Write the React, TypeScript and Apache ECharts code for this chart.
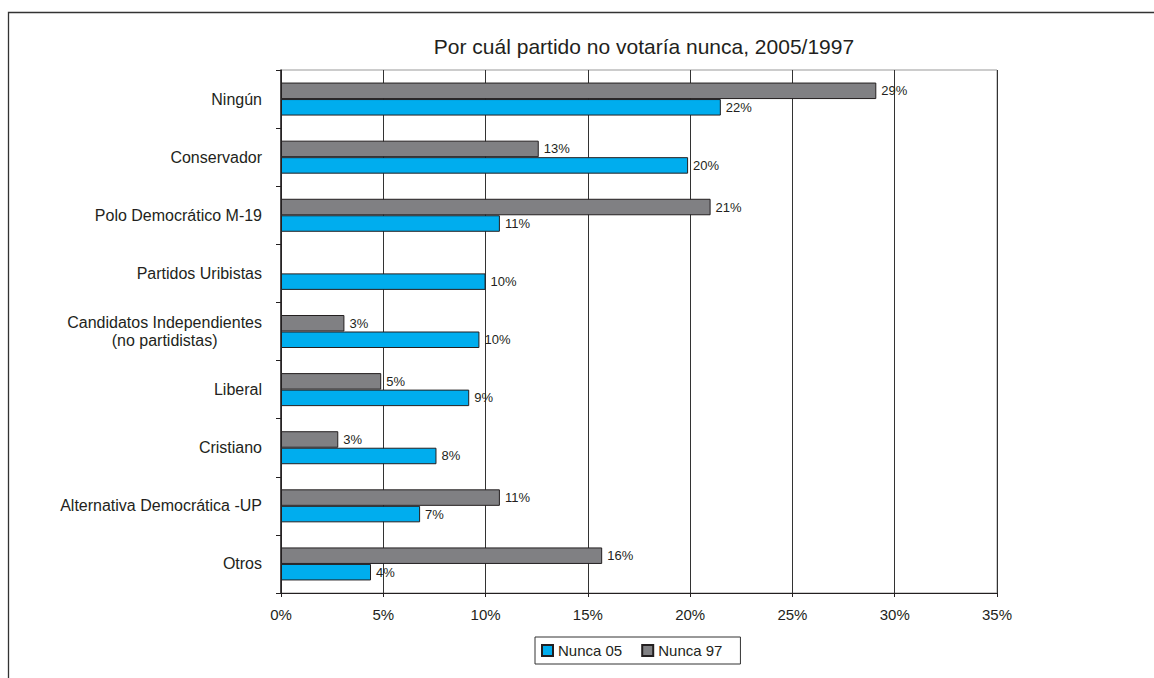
import React, { useEffect, useRef } from "react";
import * as echarts from "echarts";

const categories = [
  "Ningún",
  "Conservador",
  "Polo Democrático M-19",
  "Partidos Uribistas",
  "Candidatos Independientes\n(no partidistas)",
  "Liberal",
  "Cristiano",
  "Alternativa Democrática -UP",
  "Otros",
];
const nunca05 = [21.5, 19.9, 10.7, 10.0, 9.7, 9.2, 7.6, 6.8, 4.4];
const nunca97: (number | string)[] = [29.1, 12.6, 21.0, "-", 3.1, 4.9, 2.8, 10.7, 15.7];
const xTicks = { min: 0, max: 35, interval: 5 };
const title = "Por cuál partido no votaría nunca, 2005/1997";

const FONT = "'Liberation Sans', Arial, sans-serif";
const TEXT = "#231f20";

export default function App() {
  const ref = useRef<HTMLDivElement>(null);
  useEffect(() => {
    if (!ref.current) return;
    const chart = echarts.init(ref.current, null, { renderer: "svg" });
    const labelOpt = {
      show: true,
      position: "right",
      distance: 5,
      fontSize: 13,
      fontFamily: FONT,
      color: TEXT,
      formatter: (p: any) => Math.round(p.value) + "%",
    };
    chart.setOption({
      animation: false,
      backgroundColor: "#ffffff",
      textStyle: { fontFamily: FONT, color: TEXT },
      title: {
        text: title,
        left: 639,
        top: 31,
        textAlign: "center",
        textStyle: { fontSize: 21, fontWeight: "normal", color: TEXT, fontFamily: FONT },
      },
      graphic: [
        {
          type: "rect",
          shape: { x: 8.5, y: 12.5, width: 1300, height: 800 },
          style: { fill: "none", stroke: "#333", lineWidth: 1.3 },
          silent: true,
        },
      ],
      legend: {
        left: 535,
        top: 637,
        orient: "horizontal",
        data: ["Nunca 05", "Nunca 97"],
        itemWidth: 11,
        itemHeight: 11,
        itemGap: 19,
        padding: [6, 18, 6, 6],
        borderColor: "#333",
        borderWidth: 1,
        icon: "rect",
        textStyle: { fontSize: 15, color: TEXT, fontFamily: FONT },
      },
      grid: {
        left: 281,
        right: 157,
        top: 70,
        bottom: 85,
        show: true,
        borderColor: "#999",
        borderWidth: 1,
      },
      xAxis: {
        type: "value",
        min: xTicks.min,
        max: xTicks.max,
        interval: xTicks.interval,
        axisLine: { show: true, lineStyle: { color: TEXT, width: 1 } },
        axisTick: { show: true, length: 4, lineStyle: { color: TEXT } },
        axisLabel: {
          fontSize: 15,
          color: TEXT,
          margin: 14,
          fontFamily: FONT,
          formatter: (v: number) => v + "%",
        },
        splitLine: { show: true, lineStyle: { color: "#333", width: 1 } },
      },
      yAxis: {
        type: "category",
        data: categories,
        inverse: true,
        axisLine: { show: true, lineStyle: { color: TEXT, width: 1.5 } },
        axisTick: { show: true, length: 5, lineStyle: { color: TEXT } },
        axisLabel: {
          fontSize: 16,
          color: TEXT,
          margin: 19,
          fontFamily: FONT,
          formatter: (v: string) =>
            v
              .split("\n")
              .map((l) => `{c|${l}}`)
              .join("\n"),
          rich: {
            c: { align: "center", fontSize: 16, lineHeight: 18, color: TEXT, fontFamily: FONT },
          },
        },
      },
      series: [
        {
          name: "Nunca 97",
          type: "bar",
          data: nunca97,
          barWidth: 16.5,
          barGap: "0%",
          itemStyle: { color: "#808083", borderColor: TEXT, borderWidth: 1 },
          label: labelOpt,
        },
        {
          name: "Nunca 05",
          type: "bar",
          data: nunca05,
          barWidth: 16.5,
          barGap: "0%",
          itemStyle: { color: "#00adee", borderColor: TEXT, borderWidth: 1 },
          label: labelOpt,
        },
      ],
    });
    return () => chart.dispose();
  }, []);
  return (
    <div
      ref={ref}
      style={{ position: "fixed", left: 0, top: 0, width: 1154, height: 678 }}
    />
  );
}
